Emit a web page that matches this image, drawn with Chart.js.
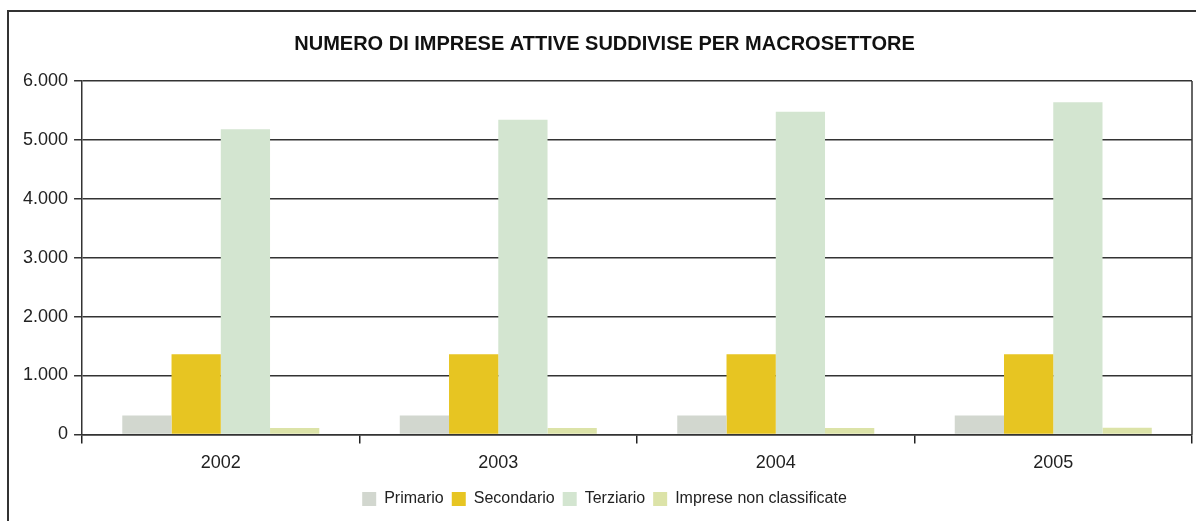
<!DOCTYPE html>
<html>
<head>
    <meta charset='utf-8'>
    <title>Numero di imprese attive</title>
    <script src="https://cdn.jsdelivr.net/npm/chart.js@4.4.0/dist/chart.umd.min.js"></script>
    <style>
        body { margin: 0; background: #fff; }
        #wrap { position: relative; width: 1196px; height: 521px; overflow: hidden; }
        #frame { position: absolute; left: 7px; top: 10px; width: 1300px; height: 600px;
                 border-left: 2px solid #333; border-top: 2px solid #333; pointer-events: none; }
    </style>
</head>
<body>
    <div id="wrap">
        <canvas id="chart" width="1196" height="521"></canvas>
        <div id="frame"></div>
    </div>
    <script>
        var years = ['2002', '2003', '2004', '2005'];
        var primario = [320, 320, 320, 320];
        var secondario = [1360, 1360, 1360, 1360];
        var terziario = [5180, 5340, 5480, 5640];
        var nonClassificate = [110, 110, 110, 115];
        var yTicks = [0, 1000, 2000, 3000, 4000, 5000, 6000];

        var fontFam = "'Liberation Sans', Arial, sans-serif";

        // right edge line of the plot
        var rightBorder = {
            id: 'rightBorder',
            afterDraw: function (chart) {
                var a = chart.chartArea, c = chart.ctx;
                c.save();
                c.strokeStyle = '#333';
                c.lineWidth = 1.5;
                c.beginPath();
                c.moveTo(a.right, a.top);
                c.lineTo(a.right, a.bottom);
                c.stroke();
                c.restore();
            }
        };

        var ctx = document.getElementById('chart').getContext('2d');
        var chart = new Chart(ctx, {
            type: 'bar',
            data: {
                labels: years,
                datasets: [
                    { label: 'Primario', data: primario, backgroundColor: '#d2d7cf' },
                    { label: 'Secondario', data: secondario, backgroundColor: '#e7c522' },
                    { label: 'Terziario', data: terziario, backgroundColor: '#d3e5d0' },
                    { label: 'Imprese non classificate', data: nonClassificate, backgroundColor: '#dce3a8' }
                ]
            },
            options: {
                responsive: false,
                animation: false,
                layout: { padding: { left: 17, right: 4, top: 0, bottom: 4 } },
                datasets: { bar: { categoryPercentage: 0.71, barPercentage: 1.0 } },
                scales: {
                    x: {
                        grid: { offset: true, drawOnChartArea: false, drawTicks: true, tickLength: 9, color: '#222', lineWidth: 1.5 },
                        border: { display: true, color: '#333', width: 1.5 },
                        ticks: { color: '#222', font: { family: fontFam, size: 18 }, padding: 9 }
                    },
                    y: {
                        min: 0, max: 6000,
                        afterBuildTicks: function (axis) { axis.ticks = yTicks.map(function (v) { return { value: v }; }); },
                        grid: { color: '#333', lineWidth: 1.5, tickLength: 8 },
                        border: { display: true, color: '#333', width: 1.5 },
                        ticks: {
                            color: '#222', font: { family: fontFam, size: 18 }, padding: 6,
                            callback: function (v) { return String(v).replace(/\B(?=(\d{3})+(?!\d))/g, '.'); }
                        }
                    }
                },
                plugins: {
                    title: {
                        display: true,
                        text: 'NUMERO DI IMPRESE ATTIVE SUDDIVISE PER MACROSETTORE',
                        color: '#111',
                        font: { family: fontFam, size: 20, weight: 'bold' },
                        padding: { top: 32, bottom: 25 }
                    },
                    legend: {
                        position: 'bottom',
                        labels: {
                            color: '#222', boxWidth: 14, boxHeight: 14, padding: 8,
                            font: { family: fontFam, size: 16 }
                        }
                    },
                    tooltip: { enabled: false }
                }
            },
            plugins: [rightBorder]
        });
    </script>
</body>
</html>
